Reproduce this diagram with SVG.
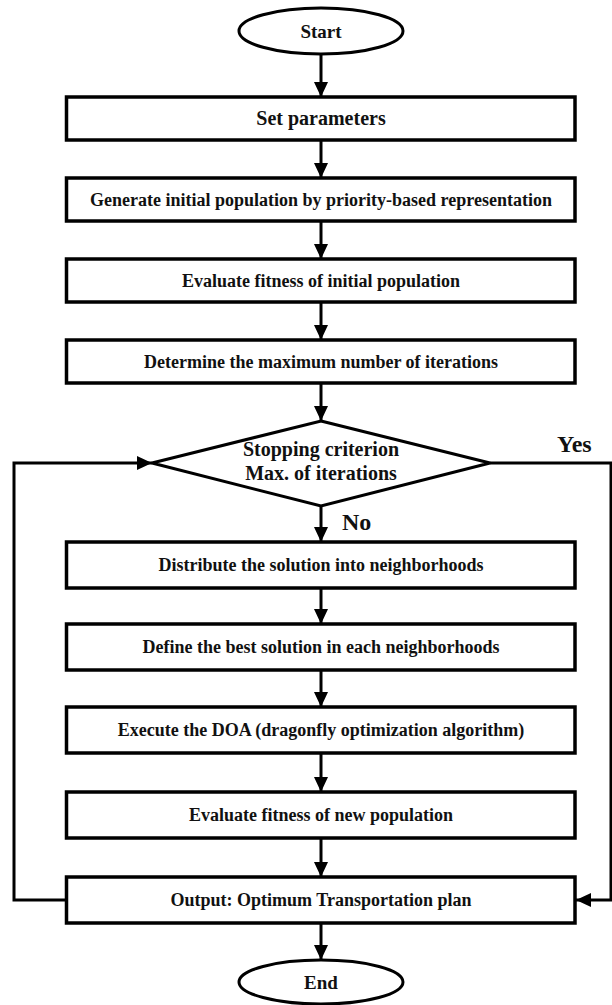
<svg xmlns="http://www.w3.org/2000/svg" width="612" height="1005" viewBox="0 0 612 1005">
<style>
.box{fill:#fff;stroke:#000;stroke-width:3.5}
.term{fill:#fff;stroke:#000;stroke-width:3}
.dia{fill:#fff;stroke:#000;stroke-width:3}
.t{font-family:"Liberation Serif","Times New Roman",serif;font-weight:bold;font-size:18px;fill:#111;text-anchor:middle}
.big{font-size:20px}
.lbl{font-family:"Liberation Serif","Times New Roman",serif;font-weight:bold;font-size:24px;fill:#111}
.c{fill:none;stroke:#000;stroke-width:3}
</style>
<defs>
<marker id="ah" markerUnits="userSpaceOnUse" markerWidth="16" markerHeight="14" refX="15" refY="7" orient="auto">
<path d="M0,0 L15,7 L0,14 Z" fill="#000"/>
</marker>
</defs>
<g id="connectors">
<line class="c" x1="321" y1="54" x2="321" y2="97" marker-end="url(#ah)"/>
<line class="c" x1="321" y1="140" x2="321" y2="178" marker-end="url(#ah)"/>
<line class="c" x1="321" y1="221" x2="321" y2="259" marker-end="url(#ah)"/>
<line class="c" x1="321" y1="302" x2="321" y2="340" marker-end="url(#ah)"/>
<line class="c" x1="321" y1="383" x2="321" y2="421" marker-end="url(#ah)"/>
<line class="c" x1="321" y1="506" x2="321" y2="542" marker-end="url(#ah)"/>
<line class="c" x1="321" y1="588" x2="321" y2="624" marker-end="url(#ah)"/>
<line class="c" x1="321" y1="670" x2="321" y2="707" marker-end="url(#ah)"/>
<line class="c" x1="321" y1="753" x2="321" y2="792" marker-end="url(#ah)"/>
<line class="c" x1="321" y1="838" x2="321" y2="877" marker-end="url(#ah)"/>
<line class="c" x1="321" y1="923" x2="321" y2="960" marker-end="url(#ah)"/>
<polyline class="c" points="66,900 14,900 14,463 152,463" marker-end="url(#ah)"/>
<polyline class="c" points="490,463 611,463 611,900 576,900" marker-end="url(#ah)"/>
<text class="lbl" x="557" y="452">Yes</text>
<text class="lbl" x="342" y="530">No</text>
</g>
<g id="start">
<ellipse class="term" cx="321" cy="31" rx="82" ry="23"/>
<text class="t" x="321" y="38" style="font-size:19px">Start</text>
</g>
<g id="set-parameters">
<rect class="box" x="66.5" y="97" width="508.5" height="43"/>
<text class="t big" x="321" y="125">Set parameters</text>
</g>
<g id="generate">
<rect class="box" x="66.5" y="178" width="508.5" height="43"/>
<text class="t" x="321" y="205.5">Generate initial population by priority-based representation</text>
</g>
<g id="evaluate-initial">
<rect class="box" x="66.5" y="259" width="508.5" height="43"/>
<text class="t" x="321" y="286.5">Evaluate fitness of initial population</text>
</g>
<g id="determine">
<rect class="box" x="66.5" y="340" width="508.5" height="43"/>
<text class="t" x="321" y="367.5">Determine the maximum number of iterations</text>
</g>
<g id="stopping">
<polygon class="dia" points="321,421 490,463 321,506 152,463"/>
<text class="t big" x="321" y="456">Stopping criterion</text>
<text class="t big" x="321" y="480">Max. of iterations</text>
</g>
<g id="distribute">
<rect class="box" x="66.5" y="542" width="508.5" height="46"/>
<text class="t" x="321" y="571">Distribute the solution into neighborhoods</text>
</g>
<g id="define-best">
<rect class="box" x="66.5" y="624" width="508.5" height="46"/>
<text class="t" x="321" y="653">Define the best solution in each neighborhoods</text>
</g>
<g id="execute-doa">
<rect class="box" x="66.5" y="707" width="508.5" height="46"/>
<text class="t" x="321" y="736">Execute the DOA (dragonfly optimization algorithm)</text>
</g>
<g id="evaluate-new">
<rect class="box" x="66.5" y="792" width="508.5" height="46"/>
<text class="t" x="321" y="821">Evaluate fitness of new population</text>
</g>
<g id="output">
<rect class="box" x="66.5" y="877" width="508.5" height="46"/>
<text class="t" x="321" y="906">Output: Optimum Transportation plan</text>
</g>
<g id="end">
<ellipse class="term" cx="321" cy="982" rx="82" ry="22"/>
<text class="t" x="321" y="989" style="font-size:19px">End</text>
</g>
</svg>
